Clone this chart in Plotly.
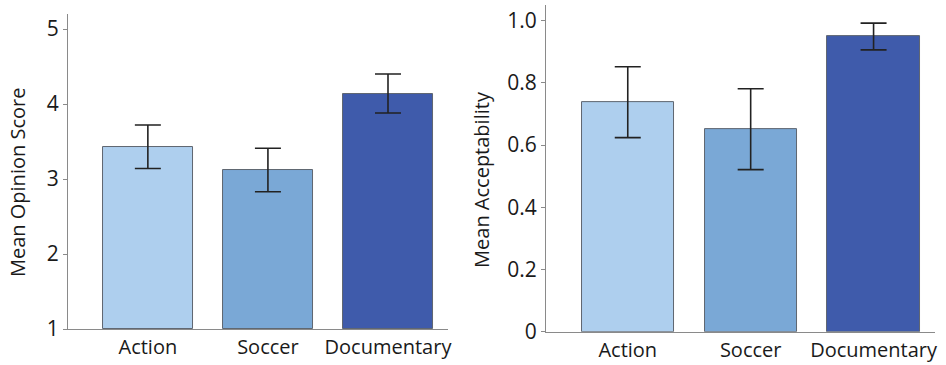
import plotly.graph_objects as go

# Category labels shared by both panels
genres = ["Action", "Soccer", "Documentary"]

# Mean opinion score per genre with error half-widths
mos_mean = [3.43, 3.12, 4.14]
mos_err = [0.29, 0.29, 0.26]

# Mean acceptability per genre with error half-widths
acc_mean = [0.738, 0.651, 0.949]
acc_err = [0.114, 0.130, 0.043]

bar_colors = ["#aecfee", "#7aa8d6", "#3f5bab"]
font_family = "'Open Sans', sans-serif"
text_color = "#1a1a1a"
axis_color = "#8a8a8a"

fig = go.Figure()

err_style = dict(type="data", visible=True, color="#222222", thickness=1.6, width=13)

fig.add_trace(go.Bar(
    x=[0, 1, 2], y=[m - 1 for m in mos_mean], base=1,
    width=0.75,
    marker=dict(color=bar_colors, line=dict(color="#5f6670", width=1)),
    error_y=dict(array=mos_err, **err_style),
    xaxis="x", yaxis="y", showlegend=False, hoverinfo="skip",
))

fig.add_trace(go.Bar(
    x=[0, 1, 2], y=acc_mean,
    width=0.75,
    marker=dict(color=bar_colors, line=dict(color="#5f6670", width=1)),
    error_y=dict(array=acc_err, **err_style),
    xaxis="x2", yaxis="y2", showlegend=False, hoverinfo="skip",
))

common_x = dict(
    tickmode="array", tickvals=[0, 1, 2], ticktext=genres,
    range=[-0.665, 2.5], showgrid=False, zeroline=False,
    showline=True, linecolor=axis_color, linewidth=1,
    ticks="", tickfont=dict(family=font_family, size=20, color=text_color),
    automargin=False, fixedrange=True,
)
common_y = dict(
    showgrid=False, zeroline=False, showline=True, linecolor=axis_color,
    linewidth=1, ticks="outside", ticklen=4, tickcolor=axis_color,
    tickfont=dict(family=font_family, size=21, color=text_color),
    automargin=False, fixedrange=True,
)

fig.update_layout(
    width=946, height=365,
    margin=dict(l=0, r=0, t=0, b=0),
    paper_bgcolor="white", plot_bgcolor="white",
    bargap=0,
    xaxis=dict(domain=[0.0719, 0.4736], anchor="y", **common_x),
    yaxis=dict(domain=[0.0986, 0.9616], anchor="x", range=[1, 5.2],
               tickvals=[1, 2, 3, 4, 5], **common_y),
    xaxis2=dict(domain=[0.5772, 0.9884], anchor="y2", **common_x),
    yaxis2=dict(domain=[0.0912, 0.986], anchor="x2", range=[0, 1.05],
                tickvals=[0, 0.2, 0.4, 0.6, 0.8, 1.0],
                ticktext=["0", "0.2", "0.4", "0.6", "0.8", "1.0"], **common_y),
    annotations=[
        dict(text="Mean Opinion Score", x=17 / 946, y=0.4986,
             xref="paper", yref="paper", textangle=-90, showarrow=False,
             xanchor="center", yanchor="middle",
             font=dict(family=font_family, size=20, color=text_color)),
        dict(text="Mean Acceptability", x=482 / 946, y=0.507,
             xref="paper", yref="paper", textangle=-90, showarrow=False,
             xanchor="center", yanchor="middle",
             font=dict(family=font_family, size=20, color=text_color)),
    ],
)

fig.write_html("out.html")
